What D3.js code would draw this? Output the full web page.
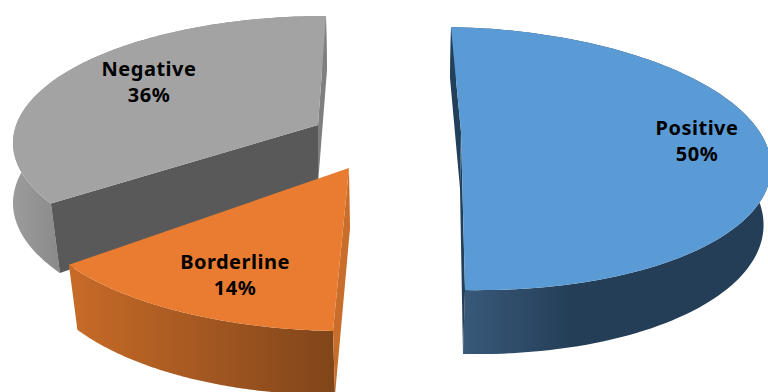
<!DOCTYPE html>
<html>
<head>
<meta charset="utf-8">
<style>
  html, body { margin: 0; padding: 0; background: #fff; overflow: hidden; }
  text { font-family: "Noto Sans", sans-serif; font-weight: 700; font-size: 20px; letter-spacing: 0.5px; fill: #000; text-anchor: middle; }
</style>
<script src="https://cdn.jsdelivr.net/npm/d3@7"></script>
</head>
<body>
<script>
const categories = ["Positive", "Borderline", "Negative"];
const shares = [50, 14, 36];

const faceColors = ["#5b9bd5", "#e97c30", "#a3a3a3"];
const startCutColors = ["#23405a", "#c96e2a", "#595959"];
const endCutColors = ["#23405a", null, "#7f7f7f"];
const wallStops = [
  [["0", "#3b5c7e"], ["0.38", "#243e57"], ["1", "#243e57"]],
  [["0", "#c86b28"], ["1", "#80451a"]],
  [["0", "#9c9c9c"], ["0.14", "#8b8b8b"], ["1", "#8b8b8b"]]
];

// Each wedge is exploded on its own, so it carries one view for its upper disc
// and one for its lower disc. A view is an ellipse (ex, ey, rx, ry), a shear
// (sx, sy), a perspective boost (bv) that lifts the hub above the ellipse centre,
// a sideways hub offset (hx) and an angular foreshortening (k) about an anchor.
const anchors = [0, Math.PI, 2 * Math.PI];
const upperViews = [
  { ex: 458, ey: 158.5, rx: 313, ry: 131.5, sx: -7, sy: 6, bv: 0.2, hx: 4.4, k: 1 },
  { ex: 340, ey: 204, rx: 313, ry: 127, sx: 7, sy: 6, bv: 0.283, hx: 7, k: 0.905 },
  { ex: 326, ey: 143, rx: 313, ry: 127, sx: 0, sy: 0, bv: 0.142, hx: -8, k: 0.968 }
];
const lowerViews = [
  { ex: 456.5, ey: 216, rx: 307, ry: 138, sx: -6.5, sy: 6, bv: 0.203, hx: 4.8, k: 1 },
  { ex: 342, ey: 253, rx: 310, ry: 142, sx: 7, sy: 0, bv: 0.176, hx: 6.8, k: 0.975 },
  { ex: 327, ey: 203, rx: 314, ry: 133, sx: 0, sy: 0, bv: 0.145, hx: -9, k: 0.992 }
];
const labelAnchors = [[697, 135], [235, 269], [149, 76]];
const lineGap = 26;

// Maps a point of the unit disc through a view's perspective and shear.
function project(view, u, v) {
  const d = 1 + view.bv * v;
  const nu = Math.sqrt(1 - view.bv * view.bv) * u / d;
  const nv = (v + view.bv) / d;
  return [view.ex + view.rx * nu + view.sx * nv, view.ey - view.ry * nv + view.sy * nu];
}
const rimAt = (view, anchor, a) => {
  const w = anchor + (a - anchor) * view.k;
  return project(view, Math.sin(w), Math.cos(w));
};
const hubOf = view => {
  const p = project(view, 0, 0);
  return [p[0] + view.hx, p[1]];
};

const pieLayout = d3.pie().sort(null).startAngle(0).endAngle(2 * Math.PI);
const arcs = pieLayout(shares);
const line = d3.line();
const closed = pts => line(pts) + "Z";

const svg = d3.select("body").append("svg").attr("width", 768).attr("height", 392).style("display", "block");
const defs = svg.append("defs");

// Wedges are painted back to front: Negative, then Positive, then Borderline.
const paintOrder = [2, 0, 1];

paintOrder.forEach(i => {
  const a = arcs[i], top = upperViews[i], low = lowerViews[i], anchor = anchors[i];
  const g = svg.append("g").attr("class", "wedge");

  const sweep = view => d3.range(0, 121).map(n =>
    rimAt(view, anchor, a.startAngle + (a.endAngle - a.startAngle) * n / 120));
  const topRim = sweep(top);
  const lowRim = sweep(low);
  const xs = topRim.concat(lowRim).map(p => p[0]);

  const grad = defs.append("linearGradient")
    .attr("id", "wall" + i)
    .attr("gradientUnits", "userSpaceOnUse")
    .attr("x1", d3.min(xs)).attr("x2", d3.max(xs))
    .attr("y1", 0).attr("y2", 0);
  wallStops[i].forEach(s => grad.append("stop").attr("offset", s[0]).attr("stop-color", s[1]));

  // Outer curved wall, built from one quad per rim step so that the silhouette
  // stays filled where the two rims cross.
  const wall = d3.range(0, 120)
    .map(n => closed([topRim[n], topRim[n + 1], lowRim[n + 1], lowRim[n]]))
    .join("");
  g.append("path").attr("d", wall).attr("fill", `url(#wall${i})`);

  // Radial cut faces that can be seen from this viewpoint.
  const cut = (ang, color) => {
    if (!color) return;
    g.append("path")
      .attr("d", closed([hubOf(top), rimAt(top, anchor, ang), rimAt(low, anchor, ang), hubOf(low)]))
      .attr("fill", color);
  };
  cut(a.startAngle, startCutColors[i]);
  cut(a.endAngle, endCutColors[i]);

  // Upper face of the wedge.
  g.append("path").attr("d", closed([hubOf(top)].concat(topRim))).attr("fill", faceColors[i]);
});

// Name and percentage over each wedge.
categories.forEach((name, i) => {
  const [x, y] = labelAnchors[i];
  const t = svg.append("text").attr("x", x).attr("y", y);
  t.append("tspan").attr("x", x).text(name);
  t.append("tspan").attr("x", x).attr("dy", lineGap).text(shares[i] + "%");
});
</script>
</body>
</html>
